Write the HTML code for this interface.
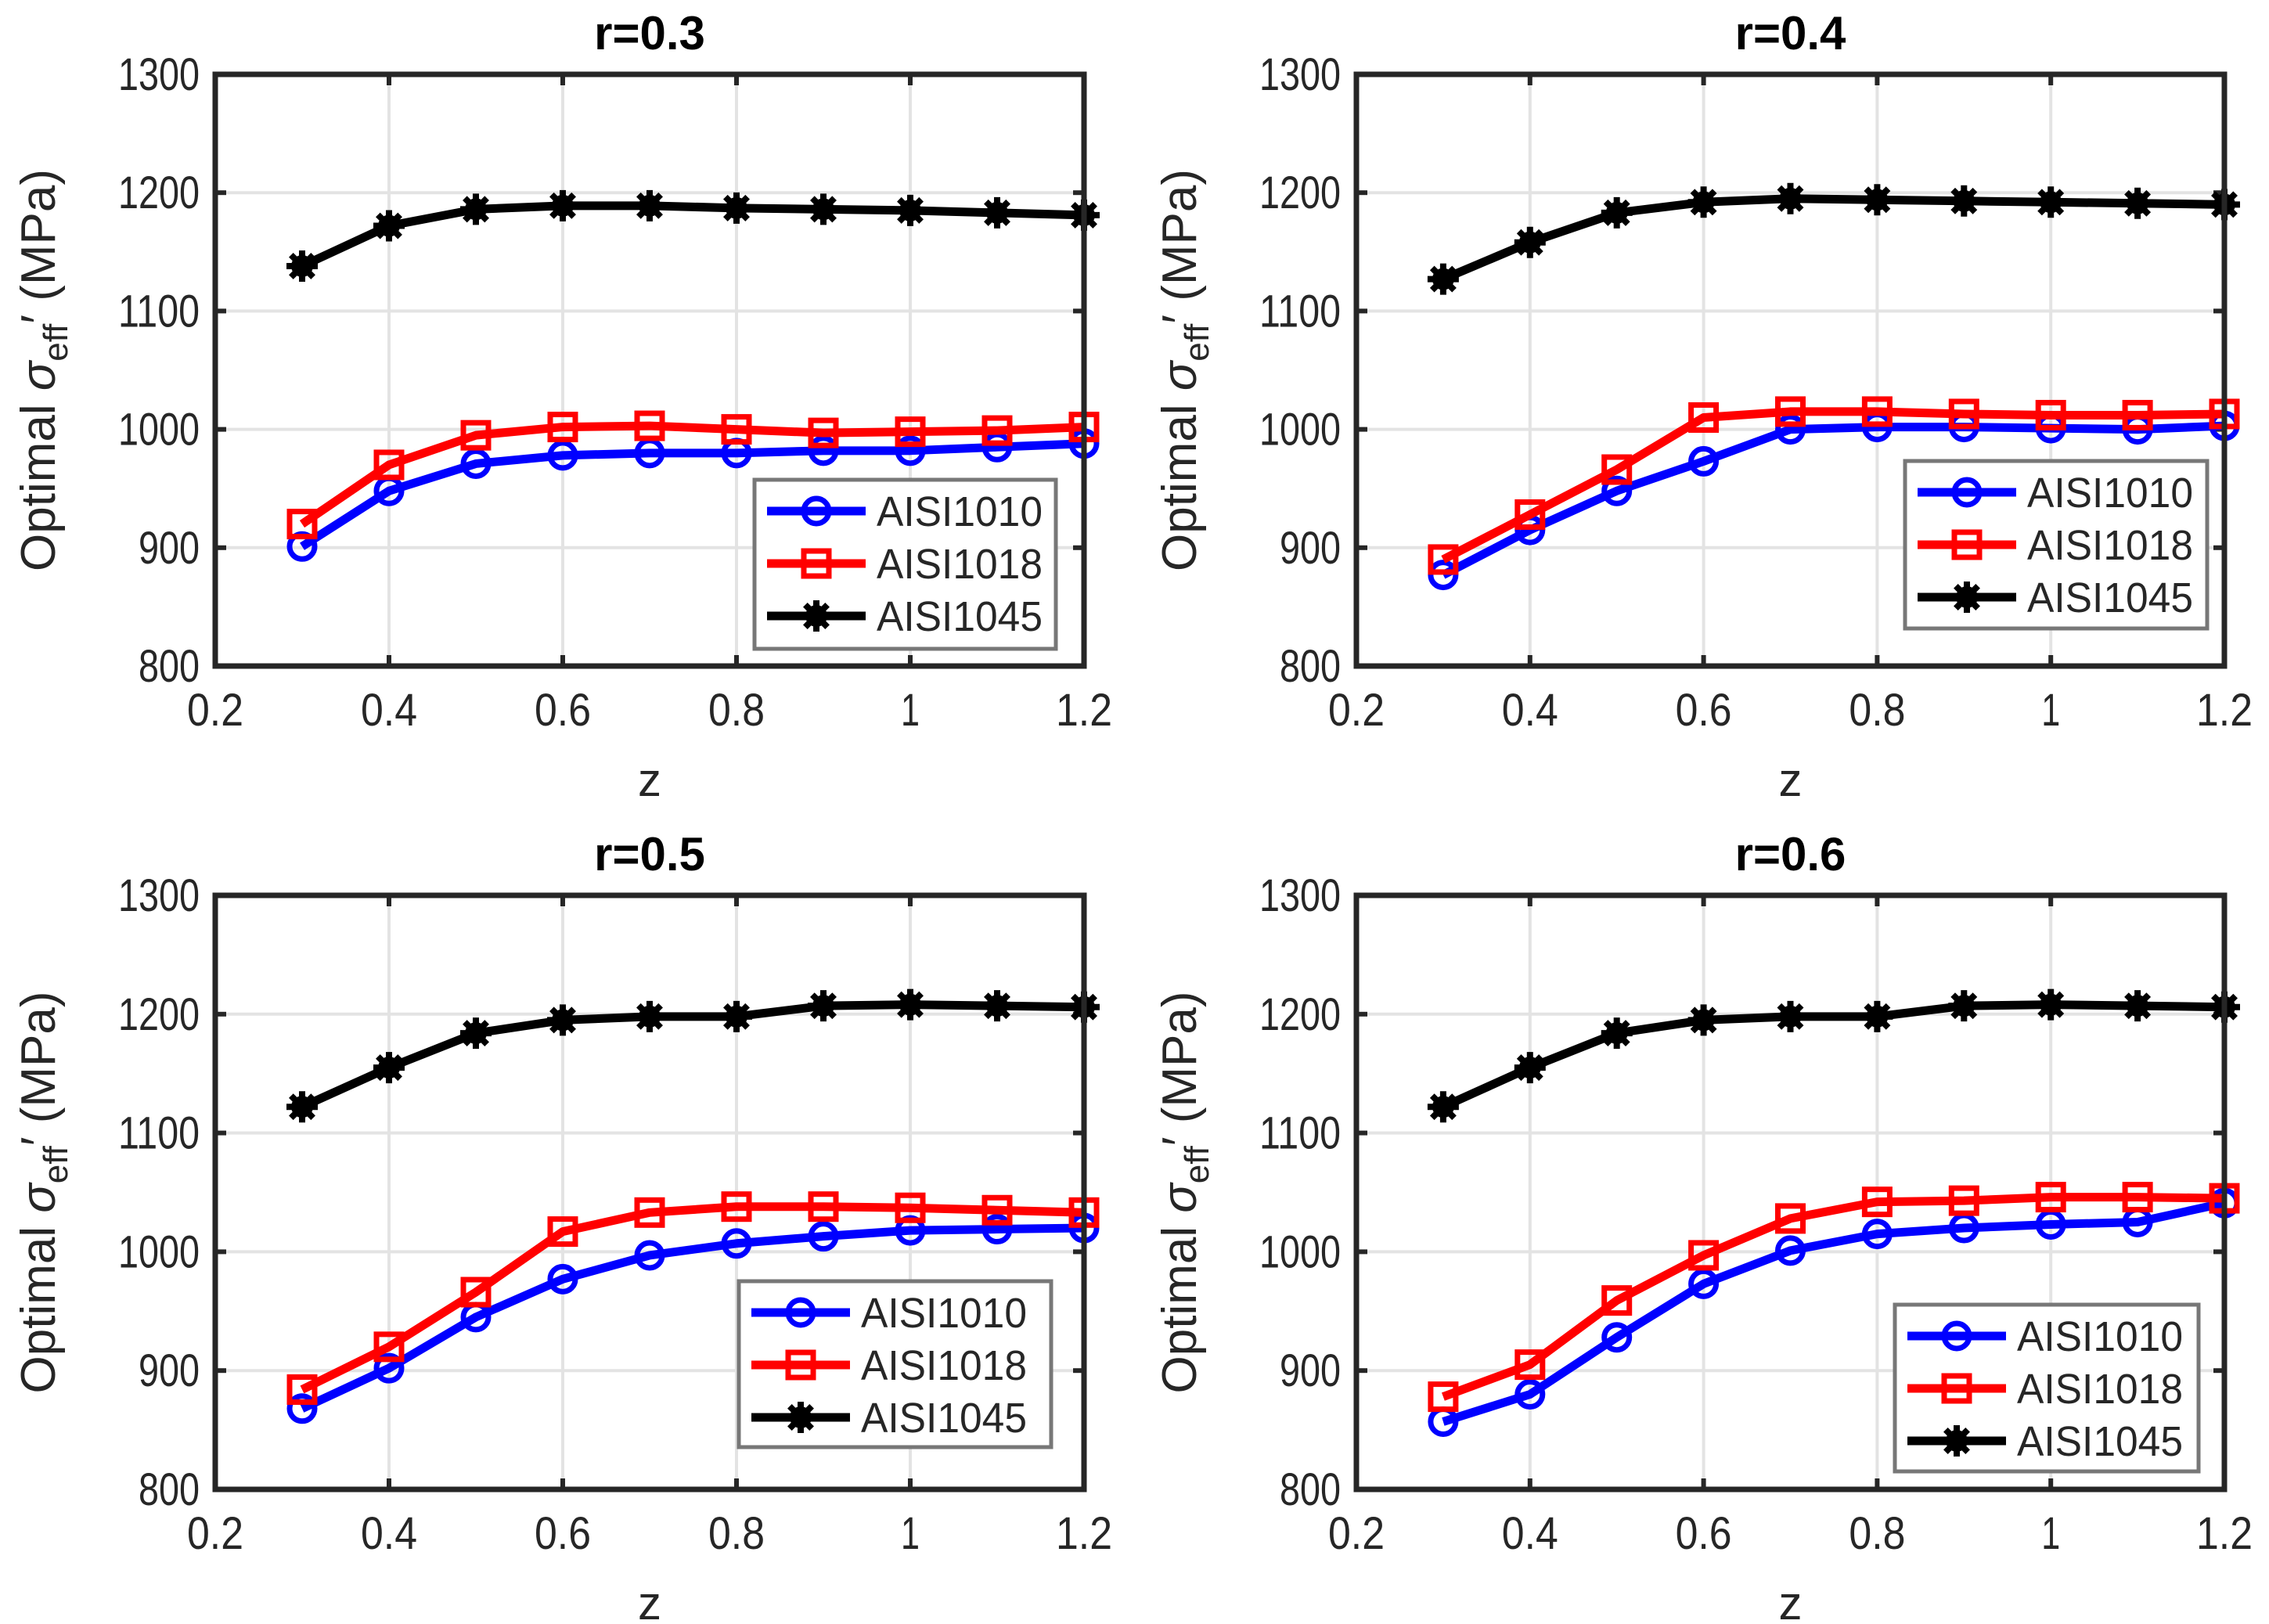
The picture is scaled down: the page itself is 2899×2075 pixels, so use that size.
<!DOCTYPE html>
<html><head><meta charset="utf-8"><style>
html,body{margin:0;padding:0;background:#fff;}
svg{display:block;font-family:"Liberation Sans",Arial,sans-serif;}
</style></head><body>
<svg id="fig" width="2899" height="2075" viewBox="0 0 2899 2075" xmlns="http://www.w3.org/2000/svg"></svg>
<script>
const zValues = [0.3,0.4,0.5,0.6,0.7,0.8,0.9,1.0,1.1,1.2];
const panelTitles = ["r=0.3","r=0.4","r=0.5","r=0.6"];
const seriesNames = ["AISI1010","AISI1018","AISI1045"];
const xTicks = [0.2,0.4,0.6,0.8,1,1.2];
const xTickLabels = ["0.2","0.4","0.6","0.8","1","1.2"];
const yTicks = [800,900,1000,1100,1200,1300];
const yTickLabels = ["800","900","1000","1100","1200","1300"];
const r03_1010 = [901,948,971,978,980,980,982,982,985,988];
const r03_1018 = [920,970,995,1002,1003,1000,997,998,999,1002];
const r03_1045 = [1138,1172,1186,1189,1189,1187,1186,1185,1183,1181];
const r04_1010 = [877,915,948,973,1000,1002,1002,1001,1000,1003];
const r04_1018 = [890,928,966,1010,1015,1015,1013,1012,1012,1013];
const r04_1045 = [1127,1158,1183,1192,1195,1194,1193,1192,1191,1190];
const r05_1010 = [868,902,945,977,997,1007,1013,1018,1019,1020];
const r05_1018 = [884,920,966,1017,1033,1038,1038,1037,1035,1033];
const r05_1045 = [1122,1155,1184,1195,1198,1198,1207,1208,1207,1206];
const r06_1010 = [857,880,928,973,1001,1015,1020,1023,1025,1041];
const r06_1018 = [878,905,959,997,1028,1042,1043,1046,1046,1045];
const r06_1045 = [1122,1155,1184,1195,1198,1198,1207,1208,1207,1206];
const panelData = [[r03_1010,r03_1018,r03_1045],[r04_1010,r04_1018,r04_1045],[r05_1010,r05_1018,r05_1045],[r06_1010,r06_1018,r06_1045]];

const NS="http://www.w3.org/2000/svg";
const svg=document.getElementById('fig');
function mk(tag,attrs,parent){const e=document.createElementNS(NS,tag);for(const k in attrs)e.setAttribute(k,attrs[k]);(parent||svg).appendChild(e);return e;}
const panels=[
 {l:275,r:1385,t:95,b:851,leg:[964,613,385,216]},
 {l:1733,r:2842,t:95,b:851,leg:[2434,589,386,214]},
 {l:275,r:1385,t:1144,b:1903,leg:[944,1637,399,212]},
 {l:1733,r:2842,t:1144,b:1903,leg:[2421,1667,388,213]}
];
const colors=["#0000ff","#ff0000","#000000"];
function marker(g,k,x,y){
  if(k===0){const c=mk('circle',{cx:x,cy:y,r:16,fill:'none',stroke:colors[0],'stroke-width':7},g);}
  else if(k===1){const s=mk('rect',{x:x-16,y:y-16,width:32,height:32,fill:'none',stroke:colors[1],'stroke-width':7},g);}
  else{const s=mk('g',{},g);
    mk('circle',{cx:x,cy:y,r:14,fill:'#000'},s);
    for(let a=0;a<4;a++){const an=a*Math.PI/4;mk('line',{x1:x-20*Math.cos(an),y1:y-20*Math.sin(an),x2:x+20*Math.cos(an),y2:y+20*Math.sin(an),stroke:'#000','stroke-width':8},s);}
  }
}
panels.forEach((p,i)=>{
  const g=mk('g',{});
  
  
  const X=v=>p.l+(v-0.2)/1.0*(p.r-p.l);
  const Y=v=>p.b-(v-800)/500*(p.b-p.t);
  xTicks.forEach(v=>{const l=mk('line',{x1:X(v),x2:X(v),y1:p.t,y2:p.b,stroke:'#e3e3e3','stroke-width':4},g);});
  yTicks.forEach(v=>{const l=mk('line',{x1:p.l,x2:p.r,y1:Y(v),y2:Y(v),stroke:'#e3e3e3','stroke-width':4},g);});
  xTicks.forEach((v,j)=>{
    mk('line',{x1:X(v),x2:X(v),y1:p.b,y2:p.b-14,stroke:'#262626','stroke-width':6},g);
    mk('line',{x1:X(v),x2:X(v),y1:p.t,y2:p.t+14,stroke:'#262626','stroke-width':6},g);
    const t=mk('text',{x:X(v),y:p.b+76,'font-size':58,'text-anchor':'middle',fill:'#262626',textLength:xTickLabels[j].length*24,lengthAdjust:'spacingAndGlyphs'},g);t.textContent=xTickLabels[j];
    
  });
  yTicks.forEach((v,j)=>{
    mk('line',{x1:p.l,x2:p.l+14,y1:Y(v),y2:Y(v),stroke:'#262626','stroke-width':6},g);
    mk('line',{x1:p.r,x2:p.r-14,y1:Y(v),y2:Y(v),stroke:'#262626','stroke-width':6},g);
    const t=mk('text',{x:p.l-20,y:Y(v)+20,'font-size':58,'text-anchor':'end',fill:'#262626',textLength:yTickLabels[j].length*26,lengthAdjust:'spacingAndGlyphs'},g);t.textContent=yTickLabels[j];
    
  });
  panelData[i].forEach((arr,k)=>{
    const sg=mk('g',{},g);
    
    
    const pts=arr.map((v,j)=>X(zValues[j])+','+Y(v)).join(' ');
    mk('polyline',{points:pts,fill:'none',stroke:colors[k],'stroke-width':11,'stroke-linejoin':'round'},sg);
    arr.forEach((v,j)=>marker(sg,k,X(zValues[j]),Y(v)));
  });
  const box=mk('rect',{x:p.l,y:p.t,width:p.r-p.l,height:p.b-p.t,fill:'none',stroke:'#262626','stroke-width':7},g);
  
  const ti=mk('text',{x:(p.l+p.r)/2,y:p.t-32,'font-size':60,'font-weight':'bold','text-anchor':'middle',fill:'#000'},g);ti.textContent=panelTitles[i];
  
  const xl=mk('text',{x:(p.l+p.r)/2,y:p.b+166,'font-size':60,'text-anchor':'middle',fill:'#262626'},g);xl.textContent='z';
  
  const cy=(p.t+p.b)/2, cx=p.l-205;
  const yl=mk('text',{x:0,y:0,'font-size':62,'text-anchor':'middle',fill:'#262626',transform:`translate(${cx},${cy}) rotate(-90)`},g);
  
  yl.innerHTML='Optimal <tspan font-style="italic">σ</tspan><tspan font-size="44" dy="16">eff</tspan><tspan dy="-16">\u2032 (MPa)</tspan>';
  const [lx,ly,lw,lh]=p.leg;
  const lg=mk('g',{},g);
  mk('rect',{x:lx,y:ly,width:lw,height:lh,fill:'#fff',stroke:'#777','stroke-width':5},lg);
  seriesNames.forEach((n,k)=>{
    const ey=ly+40+k*67;
    const eg=mk('g',{},lg);
    mk('line',{x1:lx+16,x2:lx+142,y1:ey,y2:ey,stroke:colors[k],'stroke-width':11},eg);
    marker(eg,k,lx+79,ey);
    const t=mk('text',{x:lx+156,y:ey+19,'font-size':54,fill:'#262626',textLength:212,lengthAdjust:'spacingAndGlyphs'},eg);t.textContent=n;
  });
});
</script>
</body></html>
